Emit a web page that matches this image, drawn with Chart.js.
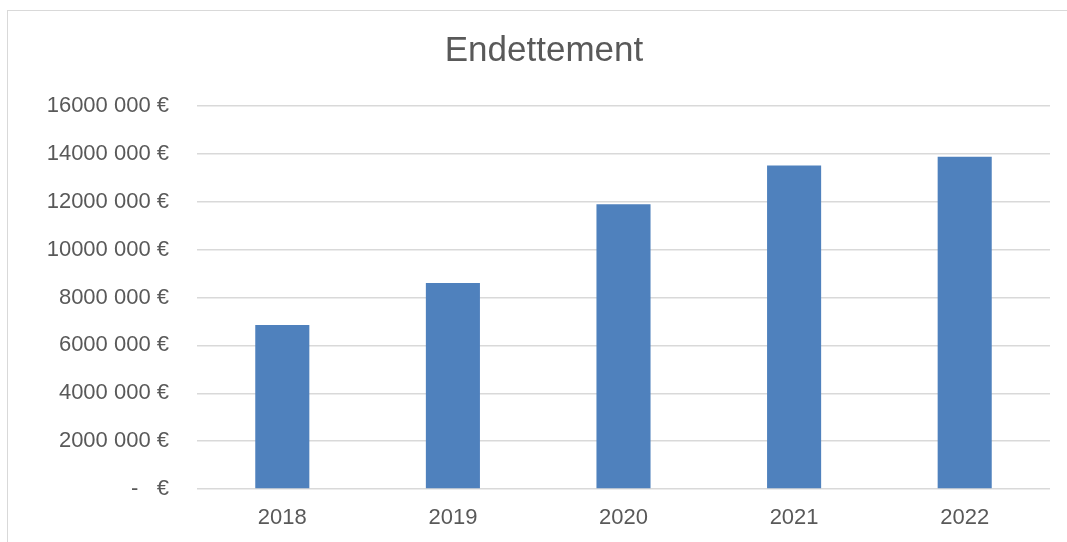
<!DOCTYPE html>
<html>
<head>
<meta charset="utf-8">
<title>Endettement</title>
<script src="https://cdn.jsdelivr.net/npm/chart.js@4/dist/chart.umd.min.js"></script>
<style>
    html, body { margin: 0; padding: 0; background: #fff; overflow: hidden; }
    #frame {
        position: absolute;
        left: 7px;
        top: 10px;
        width: 1100px;
        height: 600px;
        border: 1px solid #d9d9d9;
        box-sizing: border-box;
    }
    #wrap { position: absolute; left: 0; top: 0; width: 1088px; height: 542px; }
</style>
</head>
<body>
<div id="frame"></div>
<div id="wrap"><canvas id="debtChart" width="1088" height="542"></canvas></div>
<script>
const years = ['2018', '2019', '2020', '2021', '2022'];
const debt = [6850000, 8610000, 11900000, 13510000, 13880000];
const yTickLabels = [
    '-   €', '2000 000 €', '4000 000 €', '6000 000 €', '8000 000 €',
    '10000 000 €', '12000 000 €', '14000 000 €', '16000 000 €'
];

const textColor = '#595959';
const gridColor = '#d9d9d9';

const ctx = document.getElementById('debtChart').getContext('2d');

new Chart(ctx, {
    type: 'bar',
    data: {
        labels: years,
        datasets: [{
            label: 'Endettement',
            data: debt,
            backgroundColor: '#4F81BD',
            borderWidth: 0,
            categoryPercentage: 1,
            barPercentage: 0.317
        }]
    },
    options: {
        responsive: false,
        animation: false,
        layout: {
            // left padding keeps the title centred over the whole frame
            padding: { left: 38, right: 38, top: 0, bottom: 0 }
        },
        scales: {
            x: {
                grid: { display: false, drawTicks: false },
                border: { display: false },
                ticks: {
                    color: textColor,
                    font: { family: 'Liberation Sans', size: 22 },
                    padding: 16
                },
                afterFit: scale => { scale.height = 53; }
            },
            y: {
                min: 0,
                max: 16000000,
                grid: { color: gridColor, lineWidth: 1.5, drawTicks: false },
                border: { display: false },
                ticks: {
                    stepSize: 2000000,
                    color: textColor,
                    font: { family: 'Liberation Sans', size: 22 },
                    padding: 28,
                    callback: (value, index) => yTickLabels[index]
                },
                afterFit: scale => { scale.width = 159; }
            }
        },
        plugins: {
            legend: { display: false },
            tooltip: { enabled: false },
            title: {
                display: true,
                text: 'Endettement',
                color: textColor,
                font: { family: 'Liberation Sans', size: 35, weight: 'normal' },
                padding: { top: 30, bottom: 34 }
            }
        }
    }
});
</script>
</body>
</html>
